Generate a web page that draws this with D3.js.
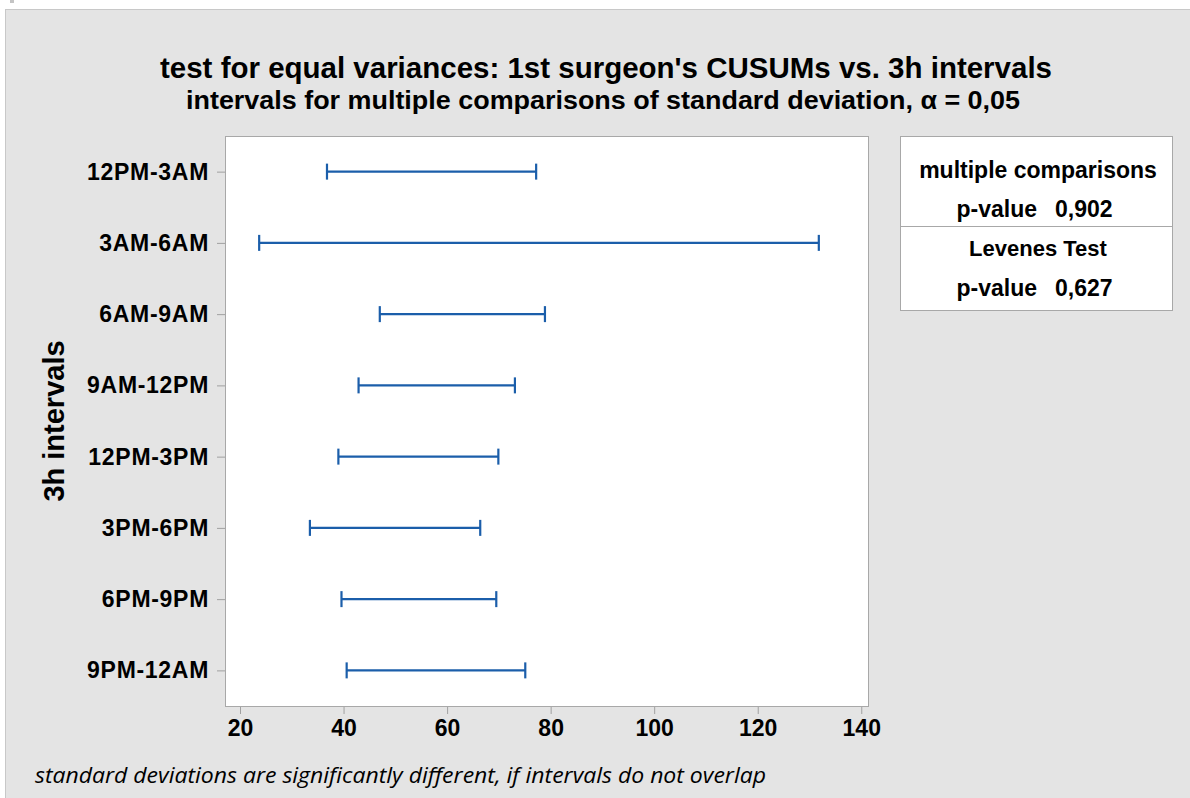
<!DOCTYPE html>
<html>
<head>
<meta charset="utf-8">
<script src="https://cdn.jsdelivr.net/npm/d3@7"></script>
<style>
  body { margin: 0; background: #fff; }
  text { font-family: "Liberation Sans", Arial, sans-serif; font-weight: bold; fill: #000; }
</style>
</head>
<body>
<svg id="chart"></svg>
<script>
// intervals
var categories = ["12PM-3AM", "3AM-6AM", "6AM-9AM", "9AM-12PM", "12PM-3PM", "3PM-6PM", "6PM-9PM", "9PM-12AM"];
var lower = [36.8, 23.7, 47.0, 42.9, 39.0, 33.5, 39.6, 40.6];
var upper = [77.2, 131.8, 78.9, 73.1, 69.9, 66.4, 69.5, 75.1];
var xTicks = [20, 40, 60, 80, 100, 120, 140];

var width = 1190, height = 798;
var plot = {left: 225, right: 868, top: 136, bottom: 706};

var svg = d3.select("#chart").attr("width", width).attr("height", height);

// panel background
svg.append("rect").attr("x", 10).attr("y", 0).attr("width", 4).attr("height", 3).attr("fill", "#c4c4c4");
svg.append("rect")
  .attr("x", 5.5).attr("y", 9.5).attr("width", width).attr("height", height)
  .attr("fill", "#e4e4e4").attr("stroke", "#c8c8c8");

// plot area
svg.append("rect")
  .attr("x", plot.left + 0.5).attr("y", plot.top + 0.5)
  .attr("width", plot.right - plot.left).attr("height", plot.bottom - plot.top)
  .attr("fill", "#fff").attr("stroke", "#a8a8a8");

var x = d3.scaleLinear().domain([17.1, 141.3]).range([plot.left, plot.right]);
var y = d3.scalePoint().domain(categories).range([plot.top, plot.bottom]).padding(0.5);

var xAxis = svg.append("g")
  .attr("transform", "translate(0," + (plot.bottom + 1) + ")")
  .call(d3.axisBottom(x).tickValues(xTicks).tickSize(7).tickPadding(6));
xAxis.select(".domain").remove();
xAxis.selectAll("line").attr("stroke", "#a0a0a0");
xAxis.selectAll("text").style("font-size", "23px").attr("font-family", null);

var yAxis = svg.append("g")
  .attr("transform", "translate(" + plot.left + ",0)")
  .call(d3.axisLeft(y).tickSize(8).tickPadding(8));
yAxis.select(".domain").remove();
yAxis.selectAll("line").attr("stroke", "#a0a0a0");
yAxis.selectAll("text").style("font-size", "23px").style("letter-spacing", "0.7px").attr("font-family", null);

// intervals
var bars = svg.append("g").attr("stroke", "#1b5eaa").attr("stroke-width", 2.2).attr("fill", "none");
categories.forEach(function(c, i) {
  var cy = y(c);
  bars.append("line").attr("x1", x(lower[i])).attr("x2", x(upper[i])).attr("y1", cy).attr("y2", cy);
  bars.append("line").attr("x1", x(lower[i])).attr("x2", x(lower[i])).attr("y1", cy - 8).attr("y2", cy + 8);
  bars.append("line").attr("x1", x(upper[i])).attr("x2", x(upper[i])).attr("y1", cy - 8).attr("y2", cy + 8);
});

// titles
svg.append("text").attr("x", 606).attr("y", 78).attr("text-anchor", "middle")
  .attr("textLength", 892).attr("lengthAdjust", "spacingAndGlyphs")
  .style("font-size", "29px")
  .text("test for equal variances: 1st surgeon's CUSUMs vs. 3h intervals");
svg.append("text").attr("x", 603).attr("y", 109).attr("text-anchor", "middle")
  .attr("textLength", 834).attr("lengthAdjust", "spacingAndGlyphs")
  .style("font-size", "25px")
  .text("intervals for multiple comparisons of standard deviation, \u03b1 = 0,05");

svg.append("text")
  .attr("transform", "translate(64,421) rotate(-90)")
  .attr("text-anchor", "middle").style("font-size", "29px")
  .text("3h intervals");

// legend box
var lg = svg.append("g");
lg.append("rect").attr("x", 900.5).attr("y", 136.5).attr("width", 272).attr("height", 174)
  .attr("fill", "#fff").attr("stroke", "#a8a8a8");
lg.append("line").attr("x1", 900.5).attr("x2", 1172.5).attr("y1", 226.5).attr("y2", 226.5).attr("stroke", "#a8a8a8");
lg.append("text").attr("x", 1038).attr("y", 178).attr("text-anchor", "middle").style("font-size", "23px").text("multiple comparisons");
lg.append("text").attr("x", 1037).attr("y", 217).attr("text-anchor", "end").style("font-size", "23px").text("p-value");
lg.append("text").attr("x", 1055).attr("y", 217).attr("text-anchor", "start").style("font-size", "23px").text("0,902");
lg.append("text").attr("x", 1038).attr("y", 256).attr("text-anchor", "middle").style("font-size", "22px").text("Levenes Test");
lg.append("text").attr("x", 1037).attr("y", 296).attr("text-anchor", "end").style("font-size", "23px").text("p-value");
lg.append("text").attr("x", 1055).attr("y", 296).attr("text-anchor", "start").style("font-size", "23px").text("0,627");

// footnote
svg.append("text").attr("x", 35).attr("y", 783)
  .attr("textLength", 731).attr("lengthAdjust", "spacingAndGlyphs")
  .style("font-family", "'Open Sans', 'Noto Sans', sans-serif")
  .style("font-weight", "normal").style("font-style", "italic").style("font-size", "21px")
  .text("standard deviations are significantly different, if intervals do not overlap");
</script>
</body>
</html>
